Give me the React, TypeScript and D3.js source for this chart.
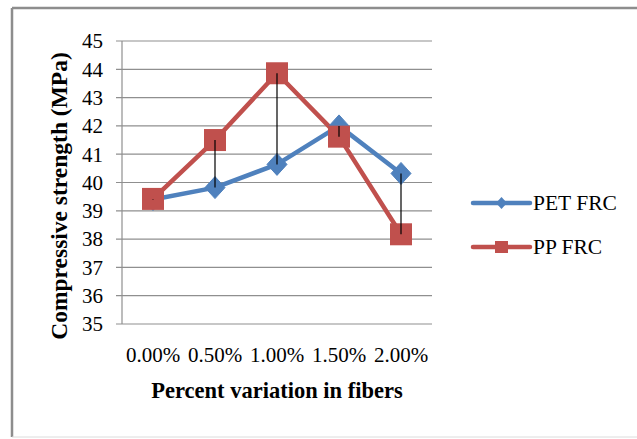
import React from "react";
import * as d3 from "d3";

const categories = ["0.00%", "0.50%", "1.00%", "1.50%", "2.00%"];
const petValues = [39.4, 39.82, 40.64, 42.0, 40.32];
const ppValues = [39.42, 41.5, 43.86, 41.62, 38.17];
const yTicks = [35, 36, 37, 38, 39, 40, 41, 42, 43, 44, 45];
const seriesNames = ["PET FRC", "PP FRC"];

const W = 637;
const H = 439;
const FONT = "Liberation Serif, Times New Roman, serif";
const BLUE = "#4f81bd";
const RED = "#c0504d";
const GRID = "#8f8f8f";

export default function App() {
  const x = d3.scaleBand<string>().domain(categories).range([122, 432]);
  const y = d3.scaleLinear().domain([35, 45]).range([324, 41]);
  const cx = (c: string) => (x(c) as number) + x.bandwidth() / 2;
  const line = d3
    .line<number>()
    .x((_, i) => cx(categories[i]))
    .y((d) => y(d));

  const diamond = (px: number, py: number, r: number) =>
    `M${px},${py - r * 1.1}L${px + r},${py}L${px},${py + r * 1.1}L${px - r},${py}Z`;

  const ts = { fontFamily: FONT, fontWeight: 400 as const };
  const tb = { fontFamily: FONT, fontWeight: 700 as const };

  return (
    <svg
      width={W}
      height={H}
      style={{ position: "absolute", left: 0, top: 0, background: "#fff" }}
    >
      <rect x={0} y={0} width={W} height={H} fill="#fff" />
      {/* outer frame */}
      <line x1={12} y1={8} x2={W} y2={8} stroke="#8d8d8d" strokeWidth={2.5} />
      <line x1={12} y1={8} x2={12} y2={437} stroke="#8d8d8d" strokeWidth={2.5} />
      <line x1={12} y1={437} x2={W} y2={437} stroke="#dcdcdc" strokeWidth={1} />

      {/* gridlines */}
      {yTicks.map((t) => (
        <line
          key={t}
          x1={116}
          x2={432}
          y1={y(t)}
          y2={y(t)}
          stroke={GRID}
          strokeWidth={1.2}
        />
      ))}
      <line x1={122} x2={122} y1={y(45)} y2={y(35)} stroke={GRID} strokeWidth={1.2} />

      {/* y tick labels */}
      {yTicks.map((t) => (
        <text
          key={t}
          x={103}
          y={y(t)}
          dy="0.35em"
          textAnchor="end"
          fontSize={21}
          fill="#000"
          style={ts}
        >
          {t}
        </text>
      ))}

      {/* x tick labels */}
      {categories.map((c) => (
        <text key={c} x={cx(c)} y={361.5} textAnchor="middle" fontSize={21} fill="#000" style={ts}>
          {c}
        </text>
      ))}

      {/* axis titles */}
      <text x={277} y={398} textAnchor="middle" fontSize={22.5} fill="#000" style={tb}>
        Percent variation in fibers
      </text>
      <text
        transform={`translate(67,196) rotate(-90)`}
        textAnchor="middle"
        fontSize={23.5}
        fill="#000"
        style={tb}
      >
        Compressive strength (MPa)
      </text>

      {/* series lines */}
      <path d={line(petValues) as string} fill="none" stroke={BLUE} strokeWidth={4.5} strokeLinejoin="round" />
      <path d={line(ppValues) as string} fill="none" stroke={RED} strokeWidth={4.5} strokeLinejoin="round" />

      {/* markers */}
      {petValues.map((v, i) => (
        <path key={"pet" + i} d={diamond(cx(categories[i]), y(v), 10)} fill={BLUE} stroke={BLUE} strokeWidth={1} />
      ))}
      {ppValues.map((v, i) => (
        <rect
          key={"pp" + i}
          x={cx(categories[i]) - 11}
          y={y(v) - 11}
          width={22}
          height={22}
          fill={RED}
        />
      ))}

      {/* high-low lines */}
      {categories.map((c, i) => {
        const hi = Math.max(petValues[i], ppValues[i]);
        const lo = Math.min(petValues[i], ppValues[i]);
        return (
          <line
            key={"hl" + c}
            x1={cx(c)}
            x2={cx(c)}
            y1={y(hi)}
            y2={y(lo)}
            stroke="#000"
            strokeWidth={1.2}
          />
        );
      })}

      {/* legend */}
      <line x1={473} x2={530} y1={203} y2={203} stroke={BLUE} strokeWidth={4.5} strokeLinecap="round" />
      <path d={diamond(501.5, 203, 5.5)} fill={BLUE} />
      <text x={533} y={209.5} fontSize={21.5} fill="#000" style={ts}>
        {seriesNames[0]}
      </text>
      <line x1={473} x2={530} y1={247} y2={247} stroke={RED} strokeWidth={4.5} strokeLinecap="round" />
      <rect x={495} y={241} width={13} height={12} fill={RED} />
      <text x={533} y={253.5} fontSize={21.5} fill="#000" style={ts}>
        {seriesNames[1]}
      </text>
    </svg>
  );
}
